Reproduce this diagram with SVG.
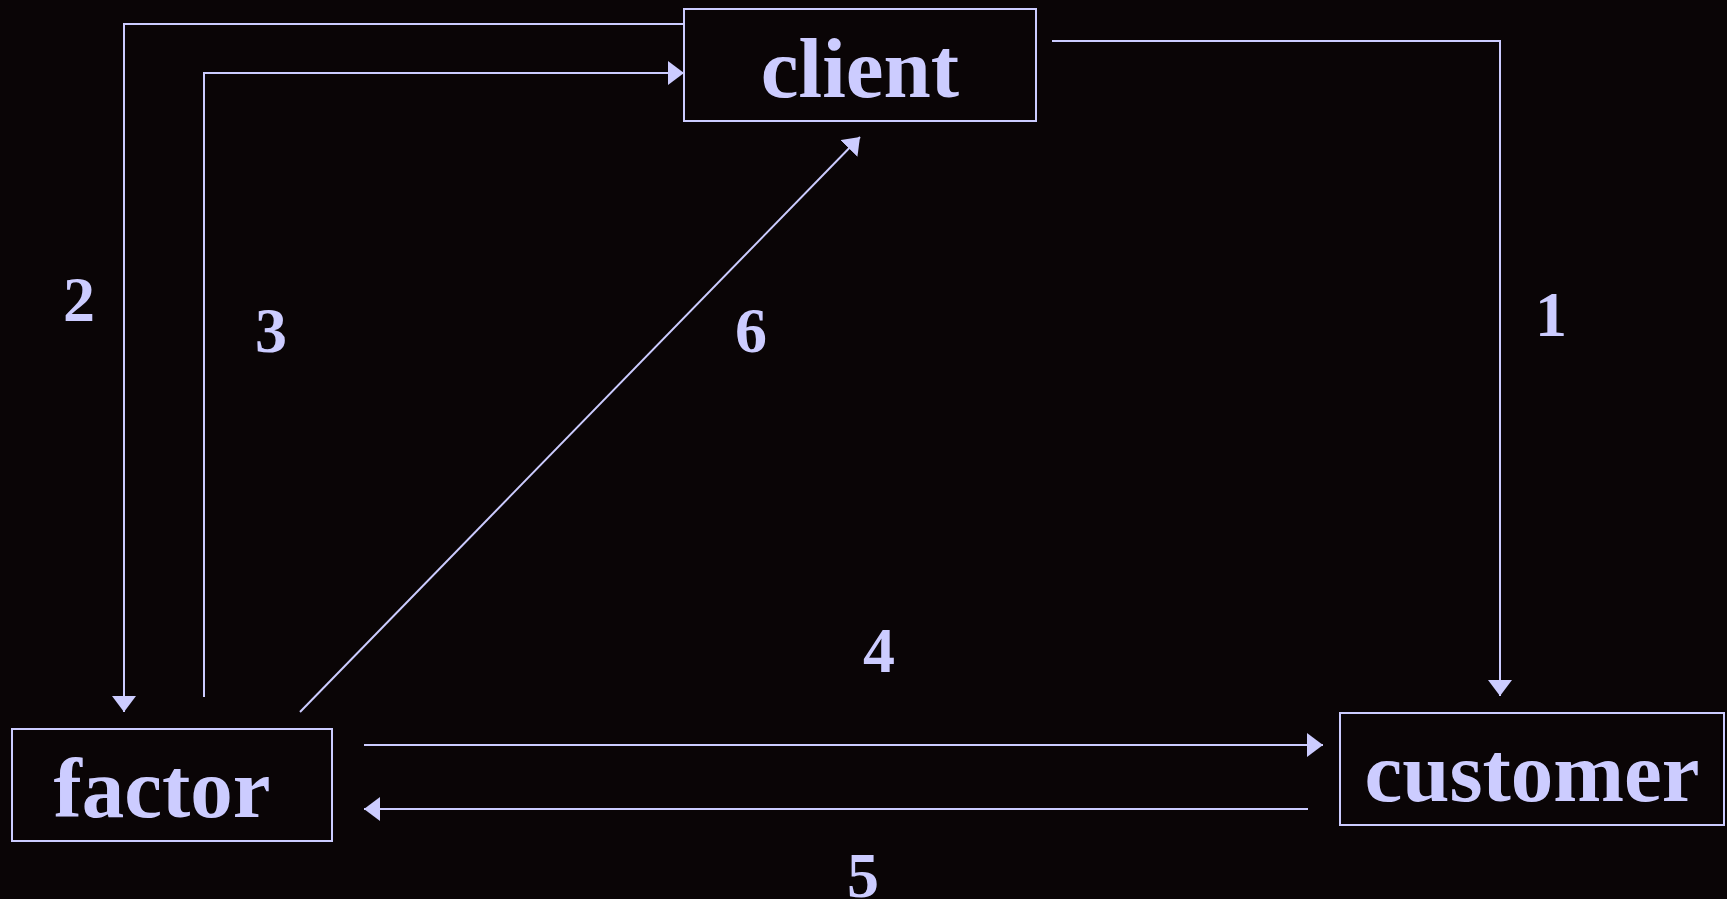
<svg xmlns="http://www.w3.org/2000/svg" width="1727" height="899" viewBox="0 0 1727 899">
<style>
.bg{fill:#0a0506}
.box{fill:none;stroke:#ccccff;stroke-width:2}
.lbl{font-family:"Liberation Serif","Times New Roman",serif;font-weight:bold;fill:#ccccff;text-anchor:middle}
.big{font-size:85px}
.num{font-size:64px}
.conn{fill:none;stroke:#ccccff;stroke-width:2}
</style>
<defs>
<marker id="ah" viewBox="0 0 16 24" refX="16" refY="12" markerWidth="16" markerHeight="24" markerUnits="userSpaceOnUse" orient="auto">
<path d="M0,0 L16,12 L0,24 z" fill="#ccccff"/>
</marker>
</defs>
<rect class="bg" x="0" y="0" width="1727" height="899"/>
<g id="connectors">
<path class="conn" d="M1052,41 H1500 V696" marker-end="url(#ah)"/>
<path class="conn" d="M684,24 H124 V712" marker-end="url(#ah)"/>
<path class="conn" d="M204,697 V73 H684" marker-end="url(#ah)"/>
<path class="conn" d="M364,745 H1323" marker-end="url(#ah)"/>
<path class="conn" d="M1308,809 H364" marker-end="url(#ah)"/>
<path class="conn" d="M300,712 L860,137" marker-end="url(#ah)"/>
<text class="lbl num" x="1551" y="336">1</text>
<text class="lbl num" x="79" y="321">2</text>
<text class="lbl num" x="271" y="352">3</text>
<text class="lbl num" x="879" y="672">4</text>
<text class="lbl num" x="863" y="897">5</text>
<text class="lbl num" x="751" y="352">6</text>
</g>
<g id="client">
<rect class="box" x="684" y="9" width="352" height="112"/>
<text class="lbl big" x="860" y="97">client</text>
</g>
<g id="factor">
<rect class="box" x="12" y="729" width="320" height="112"/>
<text class="lbl big" x="162" y="817">factor</text>
</g>
<g id="customer">
<rect class="box" x="1340" y="713" width="384" height="112"/>
<text class="lbl big" x="1532" y="801">customer</text>
</g>
</svg>
